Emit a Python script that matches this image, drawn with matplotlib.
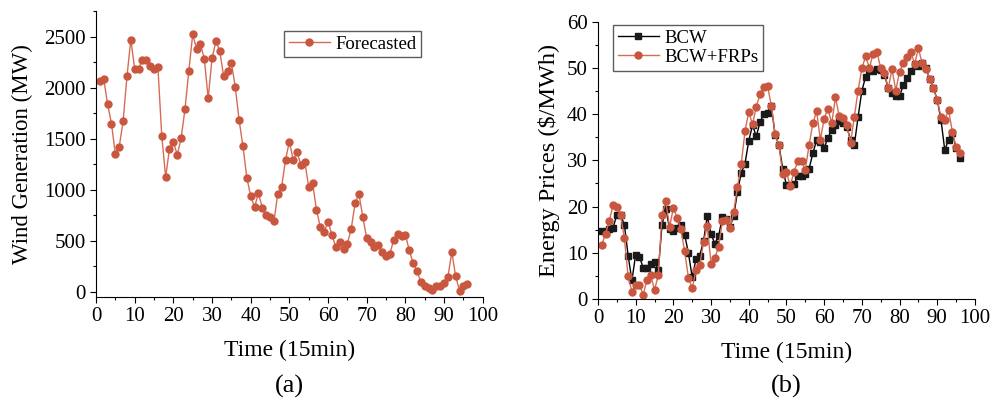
import numpy as np
import matplotlib
matplotlib.use('Agg')
import matplotlib.pyplot as plt
from matplotlib.ticker import MultipleLocator

plt.rcParams['font.family'] = ['Liberation Serif', 'DejaVu Serif']
plt.rcParams['font.size'] = 12

# time steps (15 min)
time = list(range(1, 97))

# (a) forecasted wind generation (MW)
wind = [2066, 2083, 1835, 1645, 1348, 1420, 1668, 2109, 2468, 2184,
        2184, 2272, 2266, 2207, 2184, 2200, 1525, 1123, 1400, 1469,
        1339, 1502, 1786, 2165, 2520, 2377, 2426, 2282, 1893, 2285,
        2455, 2360, 2109, 2158, 2243, 2008, 1681, 1423, 1117, 934,
        829, 963, 823, 748, 731, 690, 957, 1025, 1290, 1469,
        1290, 1365, 1241, 1267, 1025, 1064, 803, 633, 584, 686,
        558, 437, 490, 414, 470, 617, 865, 957, 728, 522,
        486, 437, 453, 389, 346, 372, 509, 565, 542, 558,
        405, 281, 203, 91, 59, 36, 20, 52, 59, 85,
        140, 389, 150, 10, 52, 78]

# (b) energy prices ($/MWh)
bcw = [14.7, 14.3, 15.2, 15.4, 18.2, 18.1, 16.1, 9.4, 4.0, 9.6,
       9.1, 6.8, 6.8, 7.6, 8.0, 6.2, 16.1, 19.5, 15.2, 14.7,
       15.4, 16.1, 13.9, 9.9, 4.7, 8.6, 9.4, 12.5, 17.9, 14.0,
       12.0, 13.6, 17.7, 17.2, 15.6, 17.9, 23.2, 27.3, 29.3, 34.2,
       37.6, 35.2, 38.3, 40.1, 40.3, 41.7, 35.4, 33.4, 28.2, 24.6,
       24.6, 24.8, 26.6, 26.6, 27.0, 28.2, 31.5, 34.4, 34.0, 32.6,
       34.9, 36.5, 37.6, 38.5, 38.0, 37.2, 34.5, 33.3, 39.4, 45.0,
       48.1, 49.5, 49.4, 49.8, 49.5, 48.5, 45.6, 44.6, 44.0, 43.9,
       46.3, 47.9, 49.4, 50.8, 50.4, 51.1, 49.9, 47.6, 45.6, 43.1,
       38.7, 32.2, 34.5, 36.0, 32.6, 30.6]
bcw_frp = [11.7, 14.1, 16.9, 20.3, 19.9, 18.1, 13.2, 4.9, 1.6, 3.1,
           3.1, 0.9, 4.2, 5.1, 2.0, 5.1, 18.2, 21.1, 15.6, 19.7,
           17.6, 15.1, 10.3, 4.6, 2.3, 6.2, 7.3, 12.3, 15.8, 7.6,
           8.9, 11.3, 16.8, 17.1, 15.3, 18.8, 24.2, 29.1, 36.3, 40.5,
           37.8, 41.6, 44.3, 45.9, 46.0, 41.8, 35.6, 33.3, 27.1, 27.5,
           24.5, 27.5, 29.8, 29.8, 28.0, 33.3, 38.0, 40.6, 34.5, 39.0,
           41.2, 38.0, 43.6, 39.6, 39.1, 37.6, 33.8, 39.4, 45.1, 49.9,
           52.5, 50.0, 53.1, 53.5, 49.9, 48.8, 45.6, 49.7, 45.1, 49.2,
           51.0, 52.4, 53.4, 50.9, 54.2, 51.0, 49.8, 47.7, 45.6, 43.0,
           39.4, 38.8, 40.9, 36.2, 32.8, 31.5]

red = '#c9573f'
red_line = '#d66c55'

fig = plt.figure(figsize=(9.91, 4.03), dpi=100)


def style_axis(ax):
    ax.spines['top'].set_visible(False)
    ax.spines['right'].set_visible(False)
    ax.tick_params(which='both', direction='out', labelsize=15, pad=3)
    ax.tick_params(which='major', length=4.5, width=0.8)
    ax.tick_params(which='minor', length=2.5, width=0.8)
    ax.xaxis.set_major_locator(MultipleLocator(10))
    ax.xaxis.set_minor_locator(MultipleLocator(5))
    ax.set_xlim(0, 100)
    ax.set_xlabel('Time (15min)', fontsize=17, labelpad=10)


# ---- (a)
ax1 = fig.add_axes([0.0969, 0.2638, 0.3902, 0.7089])
ax1.plot(time, wind, color=red_line, lw=1.0, marker='o', markersize=5,
         markerfacecolor=red, markeredgecolor=red, label='Forecasted')
style_axis(ax1)
ax1.set_ylim(-50, 2750)
ax1.yaxis.set_major_locator(MultipleLocator(500))
ax1.yaxis.set_minor_locator(MultipleLocator(250))
ax1.set_ylabel('Wind Generation (MW)', fontsize=16.5, labelpad=8)
leg1 = ax1.legend(loc='upper left', bbox_to_anchor=(0.486, 0.931),
                  borderaxespad=0, fontsize=13.5, fancybox=False,
                  edgecolor='#333333', handlelength=2.2, borderpad=0.25,
                  handletextpad=0.3)
leg1.get_frame().set_linewidth(1.0)
fig.text(0.0969 + 0.3902 / 2, 0.042, '(a)', ha='center', va='center',
         fontsize=19)

# ---- (b)
ax2 = fig.add_axes([0.6034, 0.2581, 0.3804, 0.6881])
ax2.plot(time, bcw, color='black', lw=1.0, marker='s', markersize=4.5,
         markerfacecolor='#1a1a1a', markeredgecolor='#1a1a1a', label='BCW')
ax2.plot(time, bcw_frp, color=red_line, lw=1.0, marker='o', markersize=5,
         markerfacecolor=red, markeredgecolor=red, label='BCW+FRPs')
style_axis(ax2)
ax2.set_ylim(0, 60)
ax2.yaxis.set_major_locator(MultipleLocator(10))
ax2.yaxis.set_minor_locator(MultipleLocator(5))
ax2.set_ylabel(r'Energy Prices (\$/MWh)', fontsize=17.5, labelpad=5)
leg2 = ax2.legend(loc='upper left', bbox_to_anchor=(0.04, 0.988),
                  borderaxespad=0, fontsize=13.5, fancybox=False,
                  edgecolor='#333333', handlelength=2.2, borderpad=0.25,
                  handletextpad=0.3, labelspacing=0.1)
leg2.get_frame().set_linewidth(1.0)
fig.text(0.6034 + 0.3804 / 2, 0.042, '(b)', ha='center', va='center',
         fontsize=19)

fig.savefig('out.png', dpi=100)
